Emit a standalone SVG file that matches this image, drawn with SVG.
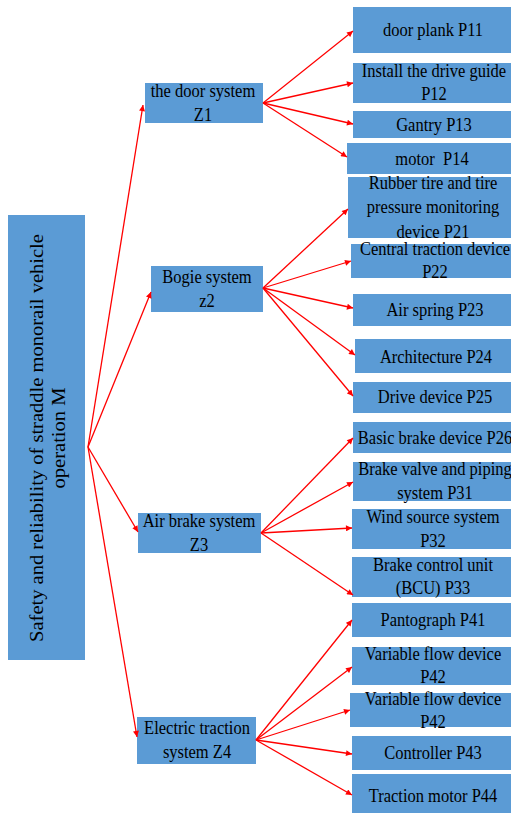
<svg xmlns="http://www.w3.org/2000/svg" width="511" height="814" viewBox="0 0 511 814">
<defs>
<style>
.box{fill:#5b9bd5}
.t{font-family:"Liberation Serif","Times New Roman",serif;font-size:16.5px;fill:#000;text-anchor:middle}
.r{font-family:"Liberation Serif","Times New Roman",serif;font-size:19px;fill:#000;text-anchor:middle}
.c line{stroke:#ff0000;stroke-width:1.3;marker-end:url(#ah)}
</style>
<marker id="ah" viewBox="0 0 10 10" refX="10" refY="5" markerWidth="7" markerHeight="6" markerUnits="userSpaceOnUse" orient="auto">
<path d="M0,0 L10,5 L0,10 z" fill="#ff0000"/>
</marker>
</defs>
<rect width="511" height="814" fill="#fff"/>

<g id="M"><rect class="box" x="8" y="215" width="77" height="445"/>
<text class="r" transform="translate(43,438) scale(1,1.08) rotate(-90)">Safety and reliability of straddle monorail vehicle<tspan x="0" dy="22">operation M</tspan></text></g>

<g id="Z1"><rect class="box" x="145" y="83" width="118" height="40"/>
<text class="t" transform="matrix(1,0,0,1.16,203,97)">the door system<tspan x="0" dy="20.7">Z1</tspan></text></g>
<g id="Z2"><rect class="box" x="151" y="266" width="112" height="46"/>
<text class="t" transform="matrix(1,0,0,1.16,207,283)">Bogie system<tspan x="0" dy="20.7">z2</tspan></text></g>
<g id="Z3"><rect class="box" x="138" y="513" width="123" height="40"/>
<text class="t" transform="matrix(1,0,0,1.16,199,527)">Air brake system<tspan x="0" dy="20.7">Z3</tspan></text></g>
<g id="Z4"><rect class="box" x="137" y="717" width="119" height="47"/>
<text class="t" transform="matrix(1,0,0,1.16,197,734)">Electric traction<tspan x="0" dy="20.7">system Z4</tspan></text></g>

<g id="P11"><rect class="box" x="353" y="7" width="170" height="46"/>
<text class="t" transform="matrix(1,0,0,1.16,433,36)">door plank P11</text></g>
<g id="P12"><rect class="box" x="353" y="63" width="170" height="40"/>
<text class="t" transform="matrix(1,0,0,1.16,434,77)">Install the drive guide<tspan x="0" dy="19.8">P12</tspan></text></g>
<g id="P13"><rect class="box" x="353" y="111" width="170" height="27"/>
<text class="t" transform="matrix(1,0,0,1.16,434,131)">Gantry P13</text></g>
<g id="P14"><rect class="box" x="347" y="143" width="176" height="31"/>
<text class="t" transform="matrix(1,0,0,1.16,432,165)" xml:space="preserve">motor  P14</text></g>

<g id="P21"><rect class="box" x="348" y="177" width="175" height="61"/>
<text class="t" transform="matrix(1,0,0,1.16,433,189)">Rubber tire and tire<tspan x="0" dy="21">pressure monitoring</tspan><tspan x="0" dy="21">device P21</tspan></text></g>
<g id="P22"><rect class="box" x="351" y="244" width="172" height="34"/>
<text class="t" transform="matrix(1,0,0,1.16,435,255)">Central traction device<tspan x="0" dy="19.8">P22</tspan></text></g>
<g id="P23"><rect class="box" x="353" y="294" width="170" height="32"/>
<text class="t" transform="matrix(1,0,0,1.16,435,316)">Air spring P23</text></g>
<g id="P24"><rect class="box" x="355" y="339" width="168" height="34"/>
<text class="t" transform="matrix(1,0,0,1.16,436,363)">Architecture P24</text></g>
<g id="P25"><rect class="box" x="353" y="382" width="170" height="31"/>
<text class="t" transform="matrix(1,0,0,1.16,435,403)">Drive device P25</text></g>
<g id="P26"><rect class="box" x="353" y="422" width="170" height="31"/>
<text class="t" transform="matrix(1,0,0,1.16,435,444)">Basic brake device P26</text></g>

<g id="P31"><rect class="box" x="353" y="462" width="170" height="39"/>
<text class="t" transform="matrix(1,0,0,1.16,435,475)">Brake valve and piping<tspan x="0" dy="20.7">system P31</tspan></text></g>
<g id="P32"><rect class="box" x="352" y="509" width="171" height="40"/>
<text class="t" transform="matrix(1,0,0,1.16,433,523)">Wind source system<tspan x="0" dy="20.7">P32</tspan></text></g>
<g id="P33"><rect class="box" x="352" y="557" width="171" height="40"/>
<text class="t" transform="matrix(1,0,0,1.16,433,571)">Brake control unit<tspan x="0" dy="19.8">(BCU) P33</tspan></text></g>

<g id="P41"><rect class="box" x="352" y="603" width="171" height="34"/>
<text class="t" transform="matrix(1,0,0,1.16,433,626)">Pantograph P41</text></g>
<g id="P42a"><rect class="box" x="352" y="647" width="171" height="38"/>
<text class="t" transform="matrix(1,0,0,1.16,433,660)">Variable flow device<tspan x="0" dy="19.8">P42</tspan></text></g>
<g id="P42b"><rect class="box" x="350" y="693" width="173" height="34"/>
<text class="t" transform="matrix(1,0,0,1.16,433,705)">Variable flow device<tspan x="0" dy="19.8">P42</tspan></text></g>
<g id="P43"><rect class="box" x="352" y="736" width="171" height="34"/>
<text class="t" transform="matrix(1,0,0,1.16,433,759)">Controller P43</text></g>
<g id="P44"><rect class="box" x="352" y="774" width="171" height="39"/>
<text class="t" transform="matrix(1,0,0,1.16,433,802)">Traction motor P44</text></g>

<g id="connectors" class="c">
<line x1="88" y1="447" x2="143" y2="105"/>
<line x1="88" y1="447" x2="151" y2="292"/>
<line x1="88" y1="447" x2="138" y2="532"/>
<line x1="88" y1="447" x2="137" y2="737"/>
<line x1="263" y1="103" x2="353" y2="31"/>
<line x1="263" y1="103" x2="353" y2="83"/>
<line x1="263" y1="103" x2="353" y2="124"/>
<line x1="263" y1="103" x2="347" y2="157"/>
<line x1="263" y1="288" x2="348" y2="209"/>
<line x1="263" y1="288" x2="351" y2="261"/>
<line x1="263" y1="288" x2="353" y2="308"/>
<line x1="263" y1="288" x2="355" y2="355"/>
<line x1="263" y1="288" x2="353" y2="396"/>
<line x1="261" y1="533" x2="353" y2="438"/>
<line x1="261" y1="533" x2="353" y2="482"/>
<line x1="261" y1="533" x2="352" y2="528"/>
<line x1="261" y1="533" x2="353" y2="595"/>
<line x1="256" y1="740" x2="352" y2="620"/>
<line x1="256" y1="740" x2="352" y2="667"/>
<line x1="256" y1="740" x2="350" y2="710"/>
<line x1="256" y1="740" x2="352" y2="754"/>
<line x1="256" y1="740" x2="352" y2="795"/>
</g>
</svg>
